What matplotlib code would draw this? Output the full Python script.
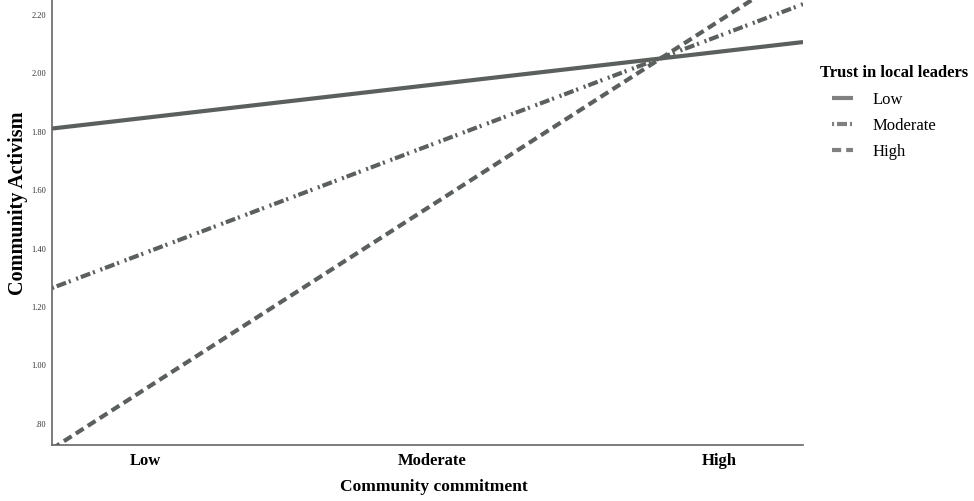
import numpy as np
import matplotlib
matplotlib.use("Agg")
import matplotlib.pyplot as plt

categories = ["Low", "Moderate", "High"]
series_names = ["Low", "Moderate", "High"]
low_trust = [1.847, 1.960, 2.073]
moderate_trust = [1.385, 1.756, 2.127]
high_trust = [0.919, 1.548, 2.178]
yticks = [0.80, 1.00, 1.20, 1.40, 1.60, 1.80, 2.00, 2.20]
ytick_labels = [".80", "1.00", "1.20", "1.40", "1.60", "1.80", "2.00", "2.20"]

plt.rcParams['font.family'] = ['Liberation Serif', 'DejaVu Serif']

fig = plt.figure(figsize=(9.74, 5.01), dpi=100)
ax = fig.add_axes([52/974, 1-445/501, (803-52)/974, 445/501])

xlim = (-0.324, 2.293)
ylim = (0.728, 2.25)
xpos = np.arange(len(categories))
color = '#5b605d'
styles = [
    dict(linestyle='-'),
    dict(linestyle=(0, (0.5, 0.7, 2.4, 0.7, 0.5, 1.4))),
    dict(linestyle=(0, (2.2, 1.2))),
]
xx = np.array(xlim)
for name, vals, st in zip(series_names, [low_trust, moderate_trust, high_trust], styles):
    k, b = np.polyfit(xpos, vals, 1)
    ax.plot(xx, k * xx + b, color=color, linewidth=3.0, label=name,
            solid_capstyle='butt', dash_capstyle='butt', **st)

ax.set_xlim(*xlim)
ax.set_ylim(*ylim)
ax.set_xticks(xpos)
ax.set_xticklabels(categories, fontsize=12, fontweight='bold')
ax.set_yticks(yticks)
ax.set_yticklabels(ytick_labels, fontsize=6, color='#333333')
ax.tick_params(axis='both', length=0)
ax.tick_params(axis='x', pad=6)
ax.tick_params(axis='y', pad=4)
for s in ['top', 'right']:
    ax.spines[s].set_visible(False)
for s in ['left', 'bottom']:
    ax.spines[s].set_color('#666666')
    ax.spines[s].set_linewidth(1.2)

ax.set_xlabel("Community commitment", fontsize=12.5, fontweight='bold', va='center')
ax.xaxis.set_label_coords((434 - 52) / 751, (445 - 487) / 445)
ax.set_ylabel("Community Activism", fontsize=14.5, fontweight='bold', va='center')
ax.yaxis.set_label_coords((18 - 52) / 751, (445 - 203) / 445)

fig.text(820/974, 1 - 73/501, "Trust in local leaders", fontsize=12, fontweight='bold',
         ha='left', va='center')
leg = ax.legend(loc='upper left',
                bbox_to_anchor=(832/974, 1 - 92/501), bbox_transform=fig.transFigure,
                frameon=False, fontsize=12, handlelength=1.25, handletextpad=1.2,
                labelspacing=0.6, borderaxespad=0, borderpad=0)
for h in leg.get_lines():
    h.set_color('#808080')
    h.set_linewidth(3.0)

fig.savefig("out.png", dpi=100)
